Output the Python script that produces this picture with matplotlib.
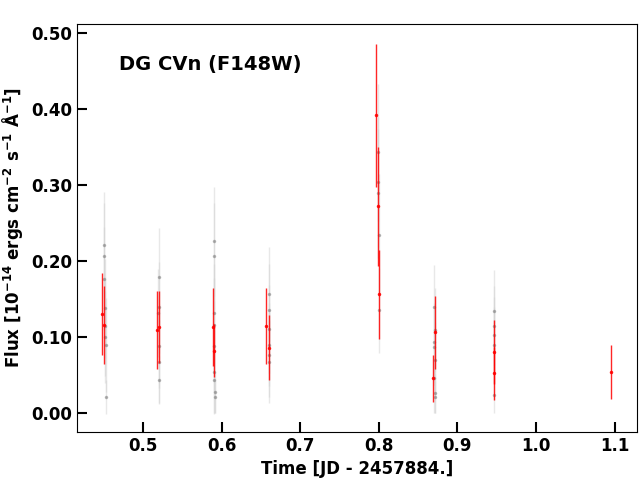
import matplotlib
matplotlib.use("Agg")
import matplotlib.pyplot as plt

# sub-exposure (grey) points per visit
grey_t = [0.450, 0.451, 0.451, 0.452, 0.452, 0.453, 0.452, 0.453,
          0.520, 0.520, 0.519, 0.520, 0.520, 0.521,
          0.590, 0.591, 0.591, 0.590, 0.590, 0.591, 0.591, 0.592, 0.592,
          0.660, 0.660, 0.661, 0.660, 0.661, 0.661,
          0.799, 0.799, 0.799, 0.800, 0.800,
          0.870, 0.871, 0.870, 0.870, 0.871, 0.870, 0.871, 0.871,
          0.947, 0.947, 0.947, 0.947, 0.947]
grey_f = [0.221, 0.206, 0.177, 0.138, 0.114, 0.090, 0.100, 0.021,
          0.179, 0.139, 0.132, 0.088, 0.067, 0.044,
          0.226, 0.207, 0.131, 0.116, 0.088, 0.054, 0.043, 0.027, 0.021,
          0.157, 0.136, 0.111, 0.090, 0.076, 0.067,
          0.343, 0.304, 0.289, 0.234, 0.135,
          0.139, 0.109, 0.093, 0.087, 0.070, 0.046, 0.026, 0.021,
          0.134, 0.115, 0.103, 0.090, 0.024]
grey_err = [0.070, 0.070, 0.068, 0.065, 0.065, 0.062, 0.060, 0.022,
            0.064, 0.060, 0.058, 0.055, 0.055, 0.031,
            0.072, 0.070, 0.065, 0.062, 0.060, 0.055, 0.043, 0.027, 0.021,
            0.062, 0.060, 0.058, 0.055, 0.055, 0.054,
            0.090, 0.085, 0.085, 0.080, 0.056,
            0.056, 0.055, 0.052, 0.050, 0.050, 0.046, 0.026, 0.021,
            0.054, 0.052, 0.050, 0.050, 0.024]

# binned (red) points
red_t = [0.448, 0.451, 0.518, 0.520, 0.589, 0.590, 0.657, 0.660,
         0.797, 0.799, 0.800, 0.869, 0.871, 0.946, 0.947, 1.095]
red_f = [0.130, 0.116, 0.109, 0.113, 0.113, 0.082, 0.114, 0.086,
         0.392, 0.272, 0.156, 0.046, 0.106, 0.080, 0.052, 0.054]
red_err = [0.054, 0.051, 0.051, 0.047, 0.051, 0.035, 0.050, 0.043,
           0.094, 0.078, 0.059, 0.031, 0.048, 0.042, 0.035, 0.035]

plt.rcParams['font.weight'] = 'bold'
plt.rcParams['axes.labelweight'] = 'bold'

fig, ax = plt.subplots(figsize=(6.4, 4.8))
ax.errorbar(grey_t, grey_f, yerr=grey_err, fmt='o', ms=1.5, color='grey',
            ecolor='lightgrey', elinewidth=1, alpha=0.5, zorder=1)
ax.errorbar(red_t, red_f, yerr=red_err, fmt='o', ms=1.5, color='red',
            ecolor='red', elinewidth=1, alpha=0.85, zorder=2)

ax.text(0.075, 0.887, 'DG CVn (F148W)', transform=ax.transAxes,
        fontsize=14, fontweight='bold')

ax.set_xlim(0.416, 1.128)
ax.set_ylim(-0.025, 0.512)
ax.set_yticks([0.0, 0.1, 0.2, 0.3, 0.4, 0.5])
ax.yaxis.set_major_formatter(matplotlib.ticker.FormatStrFormatter('%.2f'))
ax.tick_params(direction='in', length=7, width=1.5, labelsize=12)
ax.set_xlabel('Time [JD - 2457884.]', fontsize=12)
ax.set_ylabel(r'Flux [$\mathbf{10^{-14}}$ ergs cm$\mathbf{^{-2}}$ s$\mathbf{^{-1}}$ $\mathbf{\AA^{-1}}$]',
              fontsize=12)

plt.subplots_adjust(left=0.120, right=0.995, bottom=0.10, top=0.95)
plt.savefig('out.png', dpi=100)
